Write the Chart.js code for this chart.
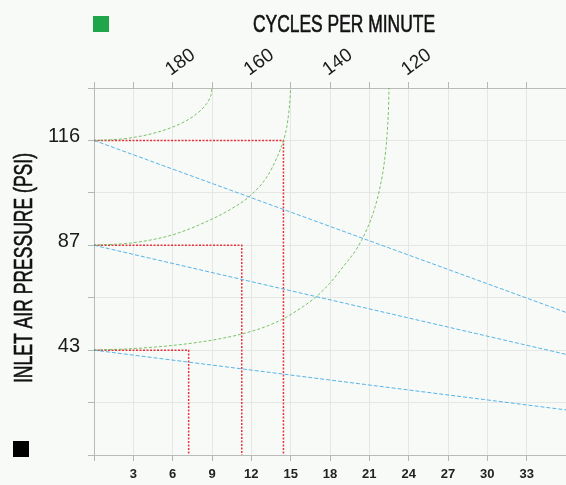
<!DOCTYPE html>
<html>
<head>
<meta charset="utf-8">
<script src="https://cdn.jsdelivr.net/npm/chart.js@4.4.1/dist/chart.umd.min.js"></script>
<style>
html,body{margin:0;padding:0;background:#f8faf8;}
#wrap{position:relative;width:566px;height:485px;overflow:hidden;}
canvas{display:block;}
</style>
</head>
<body>
<div id="wrap"><canvas id="c" width="566" height="485"></canvas></div>
<script>
// ---- text ----
const chartTitle = 'CYCLES PER MINUTE';
const yAxisTitle = 'INLET AIR PRESSURE (PSI)';

// ---- tick labels ----
// left axis: one label per grid row (0..7)
const pressureTickLabels = ['', '', '43', '', '87', '', '116', ''];
// top axis: one label per grid column (0,3,...,36)
const cpmTickLabels = ['', '', '180', '', '160', '', '140', '', '120', '', '', '', ''];

// ---- green curves (cycles per minute) ----
const curve116 = [
  {x:0,y:6},{x:1.5,y:6.014},{x:3,y:6.057},{x:4.5,y:6.134},{x:6,y:6.255},
  {x:7,y:6.371},{x:7.6,y:6.464},{x:8.2,y:6.588},{x:8.6,y:6.705},{x:8.85,y:6.818},
  {x:8.96,y:6.906},{x:9,y:7}
];
const curve87 = [
  {x:0,y:4},{x:3,y:4.05},{x:6,y:4.2},{x:9,y:4.5},{x:10.5,y:4.7},{x:11.8,y:4.92},
  {x:13.2,y:5.31},{x:14,y:5.7},{x:14.45,y:6},{x:14.7,y:6.25},{x:14.85,y:6.52},
  {x:14.95,y:6.8},{x:15,y:7}
];
const curve43 = [
  {x:0,y:2},{x:3,y:2.03},{x:6,y:2.09},{x:9,y:2.19},{x:11.3,y:2.31},{x:13,y:2.44},
  {x:14.45,y:2.6},{x:16,y:2.84},{x:17,y:3.03},{x:18,y:3.28},{x:19,y:3.59},
  {x:20,y:3.92},{x:20.8,y:4.3},{x:21.4,y:4.7},{x:21.85,y:5.15},{x:22.15,y:5.6},
  {x:22.35,y:6.1},{x:22.46,y:6.6},{x:22.5,y:7}
];

// ---- blue pressure lines ----
const blue116 = [{x:0,y:6},{x:36,y:2.72}];
const blue87  = [{x:0,y:4},{x:36,y:1.92}];
const blue43  = [{x:0,y:2},{x:36,y:0.86}];

// ---- red reading lines ----
const red116 = [{x:0,y:6},{x:14.45,y:6},{x:14.45,y:0}];
const red87  = [{x:0,y:4},{x:11.27,y:4},{x:11.27,y:0}];
const red43  = [{x:0,y:2},{x:7.22,y:2},{x:7.22,y:0}];

const GREEN = 'rgba(100,185,75,0.85)';
const BLUE = 'rgba(70,172,228,0.9)';
const RED = 'rgba(232,30,40,0.9)';

function greenSet(d){return {data:d,borderColor:GREEN,borderWidth:1,borderDash:[3,2],pointRadius:0,cubicInterpolationMode:'monotone',fill:false};}
function blueSet(d){return {data:d,borderColor:BLUE,borderWidth:1,borderDash:[4,2],pointRadius:0,tension:0,fill:false};}
function redSet(d){return {data:d,borderColor:RED,borderWidth:1.5,borderDash:[2,1.5],pointRadius:0,tension:0,fill:false};}

const decor = {
  id:'decor',
  afterDraw(chart){
    const ctx = chart.ctx;
    ctx.save();
    // legend squares
    ctx.fillStyle = '#1fa64b';
    ctx.fillRect(93,16,16,16);
    ctx.fillStyle = '#000';
    ctx.fillRect(13,441,16,16);

    const narrow = '"Liberation Sans Narrow", "Liberation Sans", Arial, sans-serif';
    ctx.fillStyle = '#111';
    ctx.strokeStyle = '#111';
    ctx.lineWidth = 0.6;
    // title
    ctx.font = '24px ' + narrow;
    let w = ctx.measureText(chartTitle).width;
    ctx.save();
    ctx.translate(344, 32);
    ctx.scale(182 / w, 1);
    ctx.textAlign = 'center';
    ctx.textBaseline = 'alphabetic';
    ctx.fillText(chartTitle, 0, 0);
    ctx.strokeText(chartTitle, 0, 0);
    ctx.restore();
    // y title
    ctx.font = '25px ' + narrow;
    w = ctx.measureText(yAxisTitle).width;
    ctx.save();
    ctx.translate(32, 268);
    ctx.rotate(-Math.PI/2);
    ctx.scale(230 / w, 1);
    ctx.textAlign = 'center';
    ctx.textBaseline = 'alphabetic';
    ctx.fillText(yAxisTitle, 0, 0);
    ctx.strokeText(yAxisTitle, 0, 0);
    ctx.restore();
    // top rotated labels
    const s = chart.scales.x2;
    ctx.font = '19px "Liberation Sans", Arial, sans-serif';
    ctx.fillStyle = '#1a1a1a';
    s.ticks.forEach((t, i) => {
      const lab = cpmTickLabels[i];
      if (!lab) return;
      const px = s.getPixelForValue(t.value);
      ctx.save();
      ctx.translate(px - 2, 76);
      ctx.rotate(-36 * Math.PI / 180);
      ctx.textAlign = 'left';
      ctx.textBaseline = 'alphabetic';
      ctx.fillText(lab, 0, 0);
      ctx.restore();
    });
    ctx.restore();
  }
};

new Chart(document.getElementById('c'), {
  type: 'line',
  data: {
    datasets: [
      blueSet(blue116), blueSet(blue87), blueSet(blue43),
      greenSet(curve116), greenSet(curve87), greenSet(curve43),
      redSet(red116), redSet(red87), redSet(red43)
    ]
  },
  options: {
    responsive: false,
    devicePixelRatio: 1,
    animation: false,
    layout: {padding: 0},
    plugins: {legend:{display:false}, tooltip:{enabled:false}, title:{display:false}},
    scales: {
      x: {
        type:'linear', position:'bottom', min:0, max:36,
        afterFit(s){ s.height = 30; s.paddingLeft = 0; s.paddingRight = 0; },
        ticks:{stepSize:3, autoSkip:false, maxRotation:0, padding:6, color:'#222',
          font:{family:'"Liberation Sans", Arial, sans-serif', size:13, weight:'bold'},
          callback:(v)=> (v===0||v===36) ? '' : String(v)},
        grid:{color:'#e5e7e5', tickColor:'#b5b7b5', tickLength:6},
        border:{color:'#b9bbb9', width:1}
      },
      x2: {
        type:'linear', position:'top', min:0, max:36,
        afterFit(s){ s.height = 88; s.paddingLeft = 0; s.paddingRight = 0; },
        ticks:{stepSize:3, autoSkip:false, maxRotation:0, color:'#222', callback:()=>''},
        grid:{drawOnChartArea:false, tickColor:'#b5b7b5', tickLength:6},
        border:{color:'#b9bbb9', width:1}
      },
      y: {
        type:'linear', position:'left', min:0, max:7,
        afterFit(s){ s.width = 94; },
        ticks:{stepSize:1, autoSkip:false, padding:8, labelOffset:-4, color:'#1a1a1a',
          font:{family:'"Liberation Sans", Arial, sans-serif', size:20},
          callback:(v)=> pressureTickLabels[v] || ''},
        grid:{color:'#e5e7e5', tickColor:'#b5b7b5', tickLength:6},
        border:{color:'#b9bbb9', width:1}
      }
    }
  },
  plugins:[decor]
});
</script>
</body>
</html>
